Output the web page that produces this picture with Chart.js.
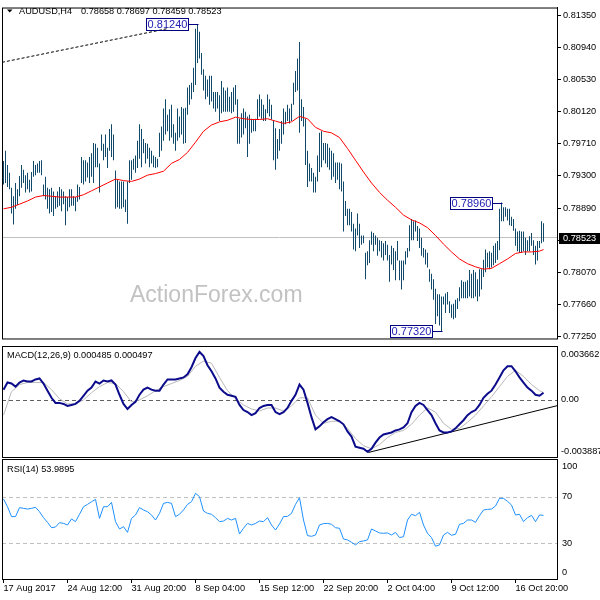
<!DOCTYPE html>
<html><head><meta charset="utf-8">
<script src="https://cdn.jsdelivr.net/npm/chart.js@4.4.1/dist/chart.umd.min.js"></script>
<style>
html,body{margin:0;padding:0;background:#fff;overflow:hidden;}
#wrap{position:relative;width:600px;height:600px;background:#fff;}
canvas{position:absolute;left:0;}
</style></head><body>
<div id="wrap">
<canvas id="cMain" width="600" height="346" style="top:0px"></canvas>
<canvas id="cMacd" width="600" height="114" style="top:344px"></canvas>
<canvas id="cRsi" width="600" height="143" style="top:457px"></canvas>
</div>
<script>
// ---------------- DATA ----------------
const symbolName = 'AUDUSD,H4';
const lastOHLC = [0.78658, 0.78697, 0.78459, 0.78523];

const barHighs = [
0.7949,0.7962,0.7944,0.7934,0.7915,0.7904,0.7921,0.7913,0.7930,0.7944,
0.7938,0.7931,0.7934,0.7925,0.7935,0.7949,0.7944,0.7946,0.7949,0.7950,
0.7919,0.7929,0.7915,0.7913,0.7915,0.7910,0.7904,0.7910,0.7916,0.7913,
0.7910,0.7904,0.7903,0.7913,0.7913,0.7904,0.7903,0.7919,0.7916,0.7954,
0.7950,0.7950,0.7947,0.7954,0.7959,0.7972,0.7971,0.7966,0.7946,0.7983,
0.7971,0.7983,0.7966,0.7990,0.7996,0.7983,0.7937,0.7925,0.7923,0.7923,
0.7923,0.7900,0.7923,0.7950,0.7950,0.7952,0.7956,0.7975,0.7996,0.7990,
0.7977,0.7972,0.7971,0.7966,0.7962,0.7956,0.7954,0.7952,0.7985,0.7993,
0.8016,0.8028,0.8008,0.8015,0.8021,0.7996,0.7985,0.8016,0.8006,0.8018,
0.8016,0.8017,0.8043,0.8046,0.8049,0.8068,0.8118,0.8124,0.8114,0.8087,
0.8066,0.8058,0.8053,0.8058,0.8058,0.8037,0.8037,0.8037,0.8033,0.8051,
0.8043,0.8039,0.8043,0.8031,0.8037,0.8043,0.8046,0.8028,0.8003,0.8010,
0.8016,0.8012,0.8006,0.8008,0.8003,0.8002,0.8003,0.8028,0.8034,0.8028,
0.8021,0.8015,0.8034,0.8028,0.8021,0.8000,0.7991,0.7977,0.7990,0.8000,
0.8016,0.8012,0.8021,0.8016,0.8022,0.8049,0.8064,0.8080,0.8101,0.8028,
0.8018,0.8003,0.7962,0.7946,0.7940,0.7934,0.7929,0.7956,0.7985,0.7987,
0.7972,0.7972,0.7971,0.7966,0.7962,0.7959,0.7947,0.7947,0.7947,0.7946,
0.7923,0.7898,0.7888,0.7888,0.7884,0.7869,0.7863,0.7882,0.7869,0.7854,
0.7854,0.7832,0.7834,0.7848,0.7859,0.7857,0.7854,0.7851,0.7848,0.7847,
0.7844,0.7847,0.7842,0.7829,0.7841,0.7838,0.7834,0.7847,0.7822,0.7822,
0.7822,0.7834,0.7838,0.7867,0.7875,0.7872,0.7873,0.7866,0.7863,0.7851,
0.7838,0.7836,0.7832,0.7811,0.7805,0.7798,0.7786,0.7779,0.7779,0.7776,
0.7776,0.7780,0.7782,0.7770,0.7766,0.7767,0.7772,0.7774,0.7788,0.7797,
0.7795,0.7795,0.7797,0.7810,0.7805,0.7810,0.7807,0.7798,0.7811,0.7811,
0.7823,0.7836,0.7832,0.7834,0.7832,0.7841,0.7844,0.7847,0.7888,0.7896,
0.7890,0.7890,0.7888,0.7888,0.7878,0.7875,0.7863,0.7859,0.7860,0.7859,
0.7859,0.7851,0.7848,0.7853,0.7857,0.7848,0.7841,0.7847,0.7847,0.7872,
0.78697];

const barLows = [
0.7919,0.7921,0.7916,0.7913,0.7882,0.7868,0.7888,0.7893,0.7904,0.7915,
0.7921,0.7909,0.7913,0.7909,0.7910,0.7929,0.7931,0.7934,0.7934,0.7931,
0.7904,0.7900,0.7888,0.7882,0.7884,0.7879,0.7888,0.7890,0.7892,0.7885,
0.7894,0.7867,0.7885,0.7890,0.7892,0.7892,0.7885,0.7897,0.7900,0.7921,
0.7919,0.7923,0.7928,0.7921,0.7929,0.7921,0.7941,0.7941,0.7909,0.7962,
0.7950,0.7954,0.7940,0.7962,0.7954,0.7950,0.7888,0.7890,0.7888,0.7888,
0.7890,0.7884,0.7869,0.7921,0.7925,0.7938,0.7934,0.7940,0.7952,0.7941,
0.7959,0.7946,0.7952,0.7941,0.7946,0.7941,0.7940,0.7941,0.7954,0.7962,
0.7975,0.7983,0.7987,0.7975,0.7979,0.7971,0.7962,0.7975,0.7979,0.7983,
0.7971,0.7972,0.8008,0.8021,0.8028,0.8037,0.8046,0.8074,0.8080,0.8059,
0.8039,0.8028,0.8031,0.8021,0.8025,0.8016,0.8012,0.8016,0.8000,0.8010,
0.8012,0.8012,0.8012,0.8012,0.8010,0.8012,0.8021,0.7971,0.7971,0.7979,
0.7983,0.7991,0.7954,0.7971,0.7985,0.7987,0.7987,0.8002,0.8006,0.8003,
0.8000,0.8000,0.8010,0.8006,0.8002,0.7950,0.7938,0.7952,0.7962,0.7971,
0.7983,0.7996,0.8000,0.7997,0.8000,0.8021,0.8037,0.8039,0.7985,0.8000,
0.7993,0.7944,0.7916,0.7923,0.7923,0.7909,0.7909,0.7923,0.7935,0.7941,
0.7950,0.7946,0.7941,0.7938,0.7925,0.7929,0.7921,0.7925,0.7913,0.7910,
0.7859,0.7879,0.7867,0.7867,0.7859,0.7836,0.7834,0.7854,0.7838,0.7842,
0.7844,0.7798,0.7816,0.7819,0.7842,0.7834,0.7842,0.7828,0.7834,0.7826,
0.7822,0.7829,0.7822,0.7795,0.7817,0.7810,0.7797,0.7822,0.7797,0.7785,
0.7797,0.7817,0.7826,0.7834,0.7848,0.7848,0.7859,0.7847,0.7838,0.7828,
0.7826,0.7817,0.7813,0.7795,0.7785,0.7772,0.7741,0.7751,0.7739,0.7732,
0.7766,0.7755,0.7766,0.7755,0.7749,0.7747,0.7749,0.7760,0.7770,0.7774,
0.7774,0.7774,0.7774,0.7776,0.7774,0.7774,0.7776,0.7770,0.7776,0.7785,
0.7801,0.7807,0.7813,0.7811,0.7813,0.7816,0.7819,0.7823,0.7835,0.7872,
0.7872,0.7878,0.7873,0.7867,0.7866,0.7860,0.7841,0.7834,0.7832,0.7832,
0.7834,0.7829,0.7834,0.7834,0.7841,0.7829,0.7817,0.7822,0.7838,0.7844,
0.78459];

// moving average, one reading every 4 bars (last reading = last bar)
const MA_STEP = 4;
const maValues = [
0.7888,0.7890,0.7894,0.7898,0.7903,0.7905,0.7904,0.7903,0.7903,0.7903,
0.7906,0.7911,0.7916,0.7921,0.7926,0.7924,0.7923,0.7926,0.7931,0.7933,
0.7936,0.7946,0.7951,0.7960,0.7973,0.7987,0.7995,0.7999,0.8001,0.8005,
0.8003,0.8002,0.8002,0.8003,0.8000,0.7997,0.7999,0.8006,0.8003,0.7992,
0.7987,0.7985,0.7979,0.7965,0.7950,0.7935,0.7921,0.7909,0.7899,0.7890,
0.7880,0.7874,0.7870,0.7864,0.7854,0.7843,0.7833,0.7824,0.7818,0.7814,
0.7811,0.7812,0.7818,0.7824,0.7831,0.7833,0.7833,0.7834,0.7836];

// MACD(12,26,9) main line, one reading every 2 bars
const MACD_STEP = 2;
const macdValues = [
0.000693,0.001178,0.001109,0.000901,0.001178,0.001317,0.001247,0.001247,0.001386,0.001455,
0.001109,0.000624,0.000139,-0.000208,-0.000208,-0.000277,-0.000416,-0.000347,-0.000277,-0.000069,
0.000277,0.000624,0.000832,0.001247,0.001109,0.001317,0.001247,0.001317,0.001040,0.000347,
-0.000277,-0.000624,-0.000347,-0.000139,0.000347,0.000693,0.000832,0.000693,0.000624,0.000624,
0.001040,0.001386,0.001386,0.001386,0.001455,0.001525,0.001733,0.002218,0.002841,0.003257,
0.002980,0.002356,0.001940,0.001455,0.000832,0.000554,0.000347,0.000277,0.000208,-0.000347,
-0.000693,-0.000832,-0.001040,-0.000901,-0.000554,-0.000416,-0.000347,-0.000347,-0.000832,-0.000970,
-0.000832,-0.000554,-0.000069,0.000347,0.001040,0.000693,-0.000208,-0.001178,-0.002010,-0.001802,
-0.001525,-0.001317,-0.001178,-0.001317,-0.001455,-0.001663,-0.002148,-0.002495,-0.003188,-0.003257,
-0.003326,-0.003534,-0.003326,-0.002911,-0.002564,-0.002356,-0.002287,-0.002218,-0.002079,-0.002010,
-0.001871,-0.001594,-0.000832,-0.000416,-0.000208,-0.000347,-0.000693,-0.001040,-0.001594,-0.002079,
-0.002218,-0.002218,-0.002148,-0.001940,-0.001663,-0.001386,-0.001040,-0.000832,-0.000693,-0.000347,
0.000139,0.000416,0.000624,0.001040,0.001525,0.002010,0.002287,0.002287,0.001940,0.001525,
0.001178,0.000832,0.000624,0.000347,0.000277,0.000485];

// MACD signal line, one reading every 4 bars
const SIGNAL_STEP = 4;
const signalValues = [
-0.001040,0.000554,0.001040,0.001178,0.001178,0.001178,0.000693,0.000069,-0.000277,-0.000277,
0.000000,0.000485,0.000901,0.001178,0.001109,0.000554,-0.000139,0.000000,0.000277,0.000624,
0.000901,0.001109,0.001317,0.001594,0.002287,0.002633,0.002495,0.001525,0.000624,0.000069,
-0.000347,-0.000624,-0.000762,-0.000554,-0.000554,-0.000762,-0.000416,0.000139,0.000139,-0.001040,
-0.001594,-0.001455,-0.001455,-0.001940,-0.002633,-0.003119,-0.003326,-0.003049,-0.002564,-0.002218,
-0.002079,-0.001663,-0.001040,-0.000554,-0.000832,-0.001594,-0.002010,-0.001940,-0.001525,-0.001040,
-0.000416,0.000208,0.000901,0.001594,0.002010,0.001594,0.001040,0.000624,0.000497];

// RSI(14), one reading every 2 bars
const RSI_STEP = 2;
const rsiValues = [
68.0,61.4,52.9,52.9,60.6,60.0,59.4,60.0,60.9,57.1,
52.0,48.0,43.4,44.0,47.7,47.1,45.7,50.9,48.6,54.9,
61.4,63.4,65.7,67.7,51.4,61.4,61.4,65.1,48.6,42.3,
44.3,39.4,51.4,54.3,60.6,58.6,57.1,54.3,50.0,55.7,
64.3,65.1,64.3,52.9,54.9,58.6,63.4,65.7,72.9,70.0,
57.7,55.7,54.9,52.0,48.6,49.1,51.4,50.0,51.4,38.0,
42.9,47.1,45.7,47.1,49.1,48.6,52.0,45.7,41.4,46.6,
52.9,53.1,55.7,63.4,69.1,50.0,36.6,36.0,37.1,45.7,
46.9,47.1,46.3,43.4,42.9,33.7,32.9,30.9,28.6,31.4,
32.0,32.9,42.3,40.6,38.9,38.6,38.9,37.1,39.4,34.9,
35.7,50.0,54.9,53.7,56.6,45.7,38.6,34.9,27.5,28.6,
37.1,39.4,36.9,37.7,46.3,47.1,50.0,50.0,48.0,53.7,
58.6,59.1,59.4,62.0,68.6,68.6,66.0,62.9,54.3,54.9,
48.6,52.0,54.0,48.6,54.3,53.9895];

const priceTicks = [0.81350,0.80940,0.80530,0.80120,0.79710,0.79300,0.78890,0.78480,0.78070,0.77660,0.77250];
const macdTicks = [0.003662, 0, -0.003887];
const macdTickLabels = ['0.003662', '0.00', '-0.003887'];
const rsiTicks = [100, 70, 30, 0];
const rsiLevels = [70, 30];
const dateTickBars = [0, 32, 64, 96, 128, 160, 192, 224, 256];
const dateLabels = ['17 Aug 2017','24 Aug 12:00','31 Aug 20:00','8 Sep 04:00','15 Sep 12:00','22 Sep 20:00','2 Oct 04:00','9 Oct 12:00','16 Oct 20:00'];

const peakBars = [97, 249, 219];
const peakValues = [0.81240, 0.78960, 0.77320];
const trendBars = [-0.75, 82];
const trendValues = [0.8075, 0.8118];
const macdTrendBars = [182.4, 276.75];
const macdTrendValues = [-0.00358, -0.00040];

// ---------------- RENDER ----------------
const FONT = "'Liberation Sans', Arial, sans-serif";
const N = barHighs.length;
const lastBar = N - 1;
const atStep = (k, step) => Math.min(k * step, lastBar);

Chart.defaults.font.family = FONT;
Chart.defaults.font.size = 9.2;
Chart.defaults.color = '#000';

function xAxis(show) {
  return {
    type: 'linear', min: -0.75, max: 276.75, offset: false, display: show,
    grid: { display: show, drawOnChartArea: false, drawTicks: true, tickLength: 4, color: '#000', offset: false },
    border: { display: show, color: '#000' },
    ticks: { display: show, align: 'start', maxRotation: 0, minRotation: 0, autoSkip: false, padding: 0,
      color: '#000', font: { family: FONT, size: 9.2 }, callback: (v, i) => dateLabels[i] },
    afterBuildTicks: s => { s.ticks = dateTickBars.map(v => ({ value: v })); },
    afterFit: s => { if (show) s.height = 21; }
  };
}
function baseOptions(padding) {
  return {
    responsive: false, animation: false, devicePixelRatio: 1, events: [],
    layout: { padding, autoPadding: false },
    plugins: { legend: { display: false }, tooltip: { enabled: false } }
  };
}
function frame(ctx, a) {
  ctx.save();
  ctx.strokeStyle = '#000'; ctx.lineWidth = 1;
  ctx.strokeRect(a.left + 0.5, a.top + 0.5, a.right - a.left, a.bottom - a.top);
  ctx.restore();
}

// ---- main price panel ----
const mainOverlay = {
  id: 'mainOverlay',
  beforeDatasetsDraw(chart) {
    const { ctx, chartArea: a, scales: { y } } = chart;
    ctx.save();
    ctx.font = `23px ${FONT}`; ctx.fillStyle = '#c2c2c2';
    ctx.textAlign = 'left'; ctx.textBaseline = 'alphabetic';
    ctx.fillText('ActionForex.com', 130, 302);
    const py = Math.round(y.getPixelForValue(lastOHLC[3])) + 0.5;
    ctx.strokeStyle = '#c0c0c0'; ctx.lineWidth = 1;
    ctx.beginPath(); ctx.moveTo(a.left, py); ctx.lineTo(a.right, py); ctx.stroke();
    ctx.restore();
  },
  afterDraw(chart) {
    const { ctx, chartArea: a, scales: { x, y } } = chart;
    ctx.save();
    // peak / trough labels
    ctx.font = `11px ${FONT}`; ctx.textAlign = 'center'; ctx.textBaseline = 'middle';
    peakBars.forEach((b, i) => {
      const bx = x.getPixelForValue(b);
      const by = Math.round(y.getPixelForValue(peakValues[i])) + 0.5;
      const right = Math.round(bx - 10) + 0.5, w = 42, h = 12;
      ctx.strokeStyle = '#000080'; ctx.lineWidth = 1;
      ctx.strokeRect(right - w, by - 6, w, h);
      ctx.beginPath(); ctx.moveTo(right, by); ctx.lineTo(Math.round(bx) + 0.5, by); ctx.stroke();
      ctx.fillStyle = '#2222b4';
      ctx.fillText(peakValues[i].toFixed(5), right - w / 2, by + 0.5);
    });
    // title
    ctx.fillStyle = '#000';
    ctx.beginPath(); ctx.moveTo(7, 9.5); ctx.lineTo(12.5, 9.5); ctx.lineTo(9.75, 12.5); ctx.closePath(); ctx.fill();
    ctx.font = `9.2px ${FONT}`; ctx.textAlign = 'left'; ctx.textBaseline = 'middle';
    ctx.fillText(symbolName, 19, 11);
    ctx.fillText(lastOHLC.map(v => v.toFixed(5)).join(' '), 81, 11);
    // price tag
    const py = Math.round(y.getPixelForValue(lastOHLC[3])) + 0.5;
    ctx.fillStyle = '#000';
    ctx.fillRect(a.right + 2, py - 4.5, 600 - a.right - 2, 11);
    ctx.fillStyle = '#fff';
    ctx.fillText(lastOHLC[3].toFixed(5), a.right + 6, py + 1);
    ctx.restore();
    frame(ctx, a);
  }
};

new Chart(document.getElementById('cMain'), {
  type: 'bar',
  data: {
    datasets: [
      { type: 'bar', order: 3, data: barHighs.map((h, i) => ({ x: i, y: [barLows[i], h] })),
        backgroundColor: '#10496a', borderWidth: 0, barThickness: 1, inflateAmount: 0 },
      { type: 'line', order: 2, data: maValues.map((v, k) => ({ x: atStep(k, MA_STEP), y: v })),
        borderColor: '#ff0000', borderWidth: 1, pointRadius: 0, tension: 0, fill: false },
      { type: 'line', order: 1, data: trendBars.map((b, k) => ({ x: b, y: trendValues[k] })),
        borderColor: '#000', borderWidth: 1, borderDash: [3, 2], pointRadius: 0, fill: false }
    ]
  },
  options: Object.assign(baseOptions({ left: 2, top: 3, right: 0, bottom: 3 }), {
    scales: {
      x: xAxis(false),
      y: { type: 'linear', position: 'right', min: 0.772252, max: 0.814494,
        grid: { drawOnChartArea: false, drawTicks: true, tickLength: 4, color: '#000' },
        border: { display: true, color: '#000' },
        ticks: { padding: 2, color: '#000', font: { family: FONT, size: 9.2 }, callback: v => v.toFixed(5) },
        afterBuildTicks: s => { s.ticks = priceTicks.map(v => ({ value: v })); },
        afterFit: s => { s.width = 43; } }
    }
  }),
  plugins: [mainOverlay]
});

// ---- MACD panel ----
const macdOverlay = {
  id: 'macdOverlay',
  beforeDatasetsDraw(chart) {
    const { ctx, chartArea: a, scales: { y } } = chart;
    ctx.save();
    const zy = Math.round(y.getPixelForValue(0)) + 0.5;
    ctx.strokeStyle = '#606060'; ctx.lineWidth = 1; ctx.setLineDash([4, 3]);
    ctx.beginPath(); ctx.moveTo(a.left, zy); ctx.lineTo(a.right, zy); ctx.stroke();
    ctx.restore();
  },
  afterDraw(chart) {
    const { ctx, chartArea: a, scales: { y } } = chart;
    ctx.save();
    ctx.fillStyle = '#000'; ctx.font = `9.2px ${FONT}`;
    ctx.textAlign = 'left'; ctx.textBaseline = 'middle';
    ctx.fillText('MACD(12,26,9) ' + macdValues[macdValues.length - 1].toFixed(6) + ' ' +
      signalValues[signalValues.length - 1].toFixed(6), 7, 11);
    macdTicks.forEach((v, i) => {
      let py = y.getPixelForValue(v);
      if (i === 0) py += 8.5; else if (i === macdTicks.length - 1) py -= 6;
      ctx.fillText(macdTickLabels[i], a.right + 4, py);
    });
    ctx.restore();
    frame(ctx, a);
  }
};

new Chart(document.getElementById('cMacd'), {
  type: 'line',
  data: {
    datasets: [
      { order: 1, data: macdValues.map((v, k) => ({ x: atStep(k, MACD_STEP), y: v })),
        borderColor: '#0b0b8c', borderWidth: 2, pointRadius: 0, tension: 0, fill: false },
      { order: 2, data: macdTrendBars.map((b, k) => ({ x: b, y: macdTrendValues[k] })),
        borderColor: '#000', borderWidth: 1, pointRadius: 0, fill: false },
      { order: 3, data: signalValues.map((v, k) => ({ x: atStep(k, SIGNAL_STEP), y: v })),
        borderColor: '#b8b8b8', borderWidth: 1, pointRadius: 0, tension: 0, fill: false }
    ]
  },
  options: Object.assign(baseOptions({ left: 2, top: 2, right: 0, bottom: 1 }), {
    scales: {
      x: xAxis(false),
      y: { type: 'linear', position: 'right', min: macdTicks[2], max: macdTicks[0],
        grid: { display: false }, border: { display: true, color: '#000' },
        ticks: { display: false },
        afterFit: s => { s.width = 43; } }
    }
  }),
  plugins: [macdOverlay]
});

// ---- RSI panel ----
const rsiOverlay = {
  id: 'rsiOverlay',
  beforeDatasetsDraw(chart) {
    const { ctx, chartArea: a, scales: { y } } = chart;
    ctx.save();
    ctx.strokeStyle = '#c0c0c0'; ctx.lineWidth = 1; ctx.setLineDash([4, 3]);
    rsiLevels.forEach(v => {
      const py = Math.round(y.getPixelForValue(v)) + 0.5;
      ctx.beginPath(); ctx.moveTo(a.left, py); ctx.lineTo(a.right, py); ctx.stroke();
    });
    ctx.restore();
  },
  afterDraw(chart) {
    const { ctx, chartArea: a, scales: { y } } = chart;
    ctx.save();
    ctx.fillStyle = '#000'; ctx.font = `9.2px ${FONT}`;
    ctx.textAlign = 'left'; ctx.textBaseline = 'middle';
    ctx.fillText('RSI(14) ' + rsiValues[rsiValues.length - 1].toFixed(4), 7, 12);
    rsiTicks.forEach((v, i) => {
      let py = y.getPixelForValue(v);
      if (i === 0) py += 5; else if (i === rsiTicks.length - 1) py -= 6;
      ctx.fillText(String(v), a.right + 5, py);
    });
    ctx.restore();
    frame(ctx, a);
  }
};

new Chart(document.getElementById('cRsi'), {
  type: 'line',
  data: {
    datasets: [
      { data: rsiValues.map((v, k) => ({ x: atStep(k, RSI_STEP), y: v })),
        borderColor: '#1e90ff', borderWidth: 1, pointRadius: 0, tension: 0, fill: false }
    ]
  },
  options: Object.assign(baseOptions({ left: 2, top: 2, right: 0, bottom: 0 }), {
    scales: {
      x: xAxis(true),
      y: { type: 'linear', position: 'right', min: -0.64, max: 102.36,
        grid: { display: false }, border: { display: true, color: '#000' },
        ticks: { display: false },
        afterFit: s => { s.width = 43; } }
    }
  }),
  plugins: [rsiOverlay]
});
</script>
</body></html>
